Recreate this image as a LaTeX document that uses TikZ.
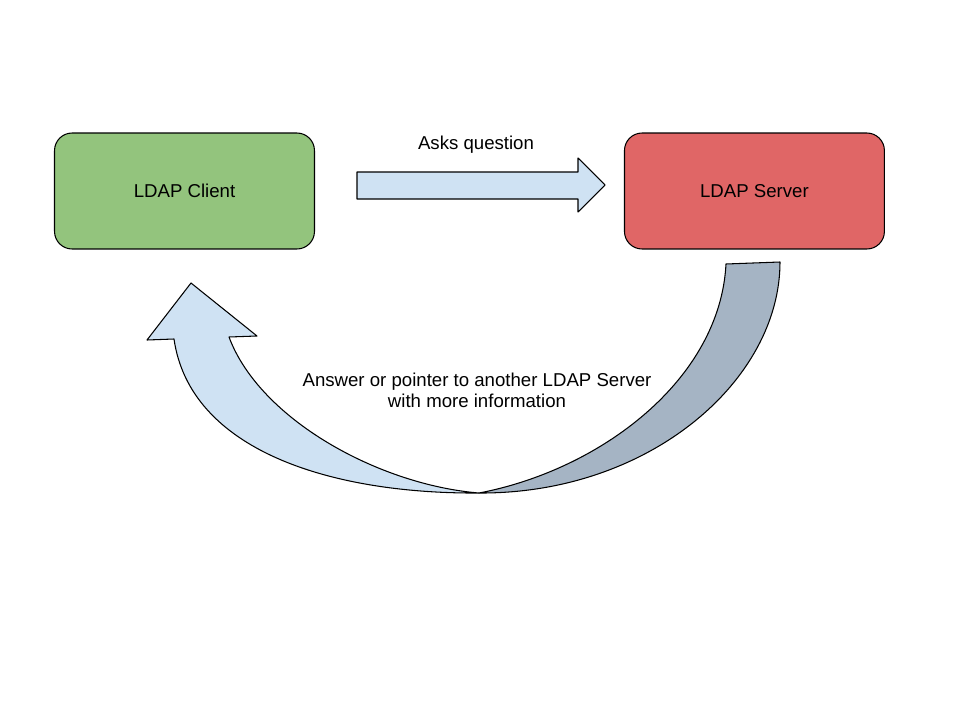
\documentclass[tikz,border=0pt]{standalone}
\usepackage{fontspec}
\setmainfont{Liberation Sans}
\usetikzlibrary{calc,positioning}
\definecolor{clientgreen}{HTML}{93C47D}
\definecolor{serverred}{HTML}{E06666}
\definecolor{lightblue}{HTML}{CFE2F3}
\definecolor{greyblue}{HTML}{A5B4C4}
\tikzset{
  box/.style={draw, rounded corners=10pt, minimum width=5.2cm, minimum height=2.32cm, align=center},
  fatarrow/.style={draw, line join=round}
}

\begin{document}
\begin{tikzpicture}[x=0.02cm, y=-0.02cm, font=\fontsize{10.6}{12}\selectfont, line width=0.6pt]
  \useasboundingbox (0,0) rectangle (960,720);

  % Client and server
  \node[box, fill=clientgreen] (client) at (184.5,191) {LDAP Client};
  \node[box, fill=serverred, right=6.18cm of client] (server) {LDAP Server};

  % Request arrow
  \draw[fatarrow, fill=lightblue] (357,172) -- (578,172) -- (578,158) -- (605,185)
    -- (578,212) -- (578,199) -- (357,199) -- cycle;
  \node (ask) at (476,145) {Asks question};

  % Reply arrow
  \coordinate (bottom) at (479,493);
  \draw[fatarrow, fill=greyblue] (bottom) .. controls (650,494) and (780,380) .. (780,262)
    -- (726,264) .. controls (720,380) and (600,470) .. (bottom) -- cycle;
  \draw[fatarrow, fill=lightblue] (bottom) .. controls (330,494) and (190,450) .. (174,339)
    -- (147,340) -- (191,283) -- (257,336) -- (229,337)
    .. controls (260,420) and (380,485) .. (bottom) -- cycle;
  \node[align=center] (answer) at (477,390) {Answer or pointer to another LDAP Server\\with more information};
\end{tikzpicture}
\end{document}
